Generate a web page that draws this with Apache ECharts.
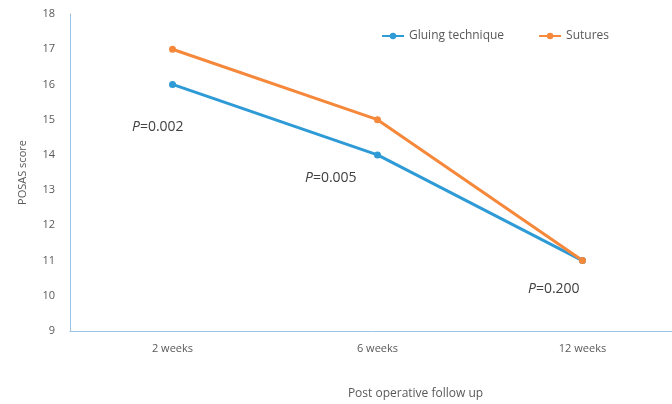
<!DOCTYPE html>
<html><head><meta charset="utf-8">
<script src="https://cdn.jsdelivr.net/npm/echarts@6/dist/echarts.min.js"></script>
<style>html,body{margin:0;padding:0;background:#fff}#c{width:672px;height:404px}</style>
</head><body><div id="c"></div>
<script>
var categories = ['2 weeks', '6 weeks', '12 weeks'];
var gluing = [16, 14, 11];
var sutures = [17, 15, 11];
var pValues = ['0.002', '0.005', '0.200'];

var chart = echarts.init(document.getElementById('c'));
var font = 'Open Sans';
function pText(v) {
  return {text: '{i|P}{n|=' + v + '}', rich: {
    i: {fontStyle: 'italic', fontSize: 14, fill: '#404040', fontFamily: font},
    n: {fontSize: 14, fill: '#404040', fontFamily: font}}};
}
chart.setOption({
  animation: false,
  grid: {left: 70, width: 615, top: 14, bottom: 73, containLabel: false, outerBoundsMode: 'none'},
  legend: {
    top: 25, left: 376,
    itemWidth: 22, itemHeight: 8, itemGap: 34,
    textStyle: {color: '#595959', fontSize: 12, fontFamily: font},
    data: ['Gluing technique', 'Sutures']
  },
  xAxis: {
    type: 'category', data: categories, boundaryGap: true,
    axisLine: {lineStyle: {color: '#9DC3E6', width: 1}},
    axisTick: {show: false},
    axisLabel: {color: '#595959', fontSize: 11, fontFamily: font, margin: 12},
    name: 'Post operative follow up', nameLocation: 'middle', nameGap: 57,
    nameTextStyle: {color: '#595959', fontSize: 12, fontFamily: font, padding: [0, 0, 0, 76]}
  },
  yAxis: {
    type: 'value', min: 9, max: 18, interval: 1,
    axisLine: {show: true, lineStyle: {color: '#9DC3E6', width: 1}},
    axisTick: {show: false},
    splitLine: {show: false},
    axisLabel: {color: '#595959', fontSize: 11, fontFamily: font, margin: 15},
    name: 'POSAS score', nameLocation: 'middle', nameGap: 42,
    nameTextStyle: {color: '#595959', fontSize: 11, fontFamily: font}
  },
  series: [
    {name: 'Gluing technique', type: 'line', data: gluing,
     symbol: 'circle', symbolSize: 7,
     lineStyle: {color: '#2E9BD6', width: 3}, itemStyle: {color: '#2E9BD6'}},
    {name: 'Sutures', type: 'line', data: sutures,
     symbol: 'circle', symbolSize: 7,
     lineStyle: {color: '#F5883B', width: 3}, itemStyle: {color: '#F5883B'}}
  ],
  graphic: [
    {type: 'text', left: 132, top: 120, style: pText(pValues[0])},
    {type: 'text', left: 305, top: 171, style: pText(pValues[1])},
    {type: 'text', left: 528, top: 282, style: pText(pValues[2])}
  ]
});
</script></body></html>
